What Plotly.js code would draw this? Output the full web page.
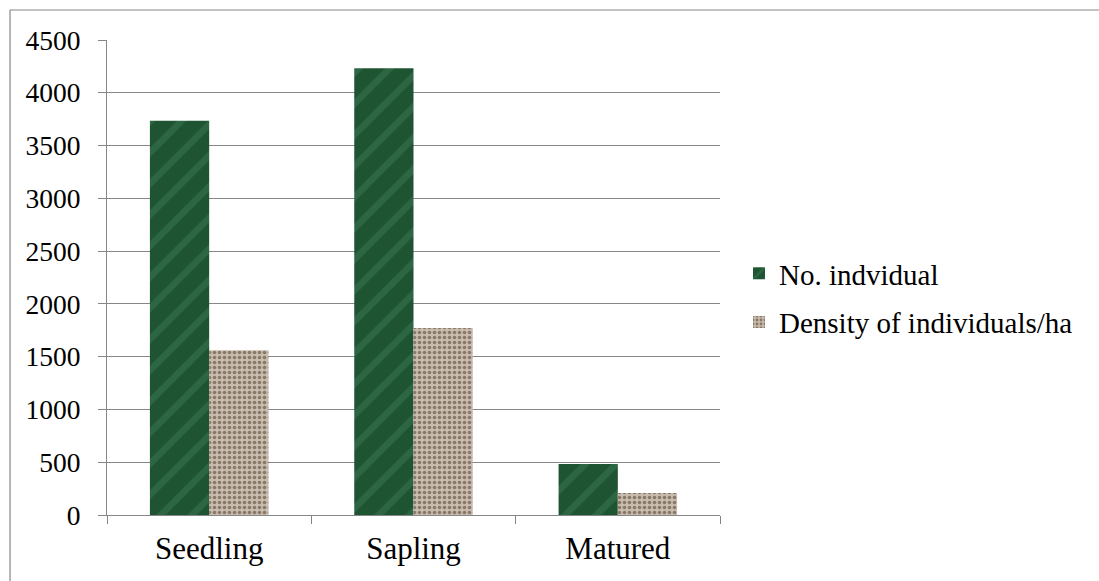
<!DOCTYPE html>
<html>
<head>
<meta charset="utf-8">
<script src="https://cdn.plot.ly/plotly-3.0.1.min.js"></script>
<style>
  html, body { margin: 0; padding: 0; background: #fff; }
  #chart { width: 1099px; height: 581px; }
</style>
</head>
<body>
<div id="chart"></div>
<script>
// Growth stages and counts
const stages = ['Seedling', 'Sapling', 'Matured'];
const individuals = [3735, 4233, 483];
const densityPerHa = [1561, 1772, 208];
const yTickValues = [0, 500, 1000, 1500, 2000, 2500, 3000, 3500, 4000, 4500];

const serif = 'Liberation Serif, Times New Roman, serif';
const gray = '#868686';

const traces = [
  {
    type: 'bar',
    name: 'No. indvidual',
    x: stages,
    y: individuals,
    legendgroup: 'a',
    marker: {
      color: '#1f5432',
      line: { width: 0 },
      pattern: { shape: '/', fgcolor: '#2c6642', bgcolor: '#1f5432', size: 22, solidity: 0.3 }
    },
    hoverinfo: 'x+y'
  },
  {
    type: 'bar',
    name: 'Density of individuals/ha',
    x: stages,
    y: densityPerHa,
    legendgroup: 'b',
    marker: {
      color: '#c4b6a7',
      line: { width: 0 },
      pattern: { shape: '.', fgcolor: '#887868', bgcolor: '#c9bcae', size: 5, solidity: 0.4 }
    },
    hoverinfo: 'x+y'
  }
];

const layout = {
  width: 1099,
  height: 581,
  margin: { l: 107, r: 379, t: 40, b: 66, autoexpand: false },
  paper_bgcolor: '#ffffff',
  plot_bgcolor: '#ffffff',
  barmode: 'group',
  bargap: 0.42,
  bargroupgap: 0,
  font: { family: serif, color: '#000000' },
  xaxis: {
    type: 'category',
    tickson: 'boundaries',
    ticks: 'outside',
    ticklen: 8,
    tickcolor: gray,
    showline: true,
    linecolor: gray,
    linewidth: 1,
    showgrid: false,
    tickfont: { family: serif, size: 31, color: '#000' },
    ticklabelstandoff: 6,
    automargin: false
  },
  yaxis: {
    range: [0, 4500],
    tickvals: yTickValues,
    ticks: 'outside',
    ticklen: 8,
    tickcolor: gray,
    showline: true,
    linecolor: gray,
    linewidth: 1,
    showgrid: true,
    gridcolor: gray,
    gridwidth: 1,
    zeroline: false,
    tickfont: { family: serif, size: 27.5, color: '#000' },
    ticklabelstandoff: 12,
    automargin: false
  },
  legend: {
    x: 1.031,
    xanchor: 'left',
    y: 0.457,
    yanchor: 'middle',
    font: { family: serif, size: 29, color: '#000' },
    tracegroupgap: 8,
    bgcolor: 'rgba(0,0,0,0)'
  },
  shapes: [
    // chart frame
    { type: 'line', xref: 'paper', yref: 'paper', x0: -0.1582, x1: -0.1582, y0: -0.3, y1: 1.0632,
      line: { color: gray, width: 1.2 } },
    { type: 'line', xref: 'paper', yref: 'paper', x0: -0.1582, x1: 1.7, y0: 1.0632, y1: 1.0632,
      line: { color: gray, width: 1.2 } }
  ],
  showlegend: true
};

Plotly.newPlot('chart', traces, layout, { displayModeBar: false, staticPlot: true });
</script>
</body>
</html>
